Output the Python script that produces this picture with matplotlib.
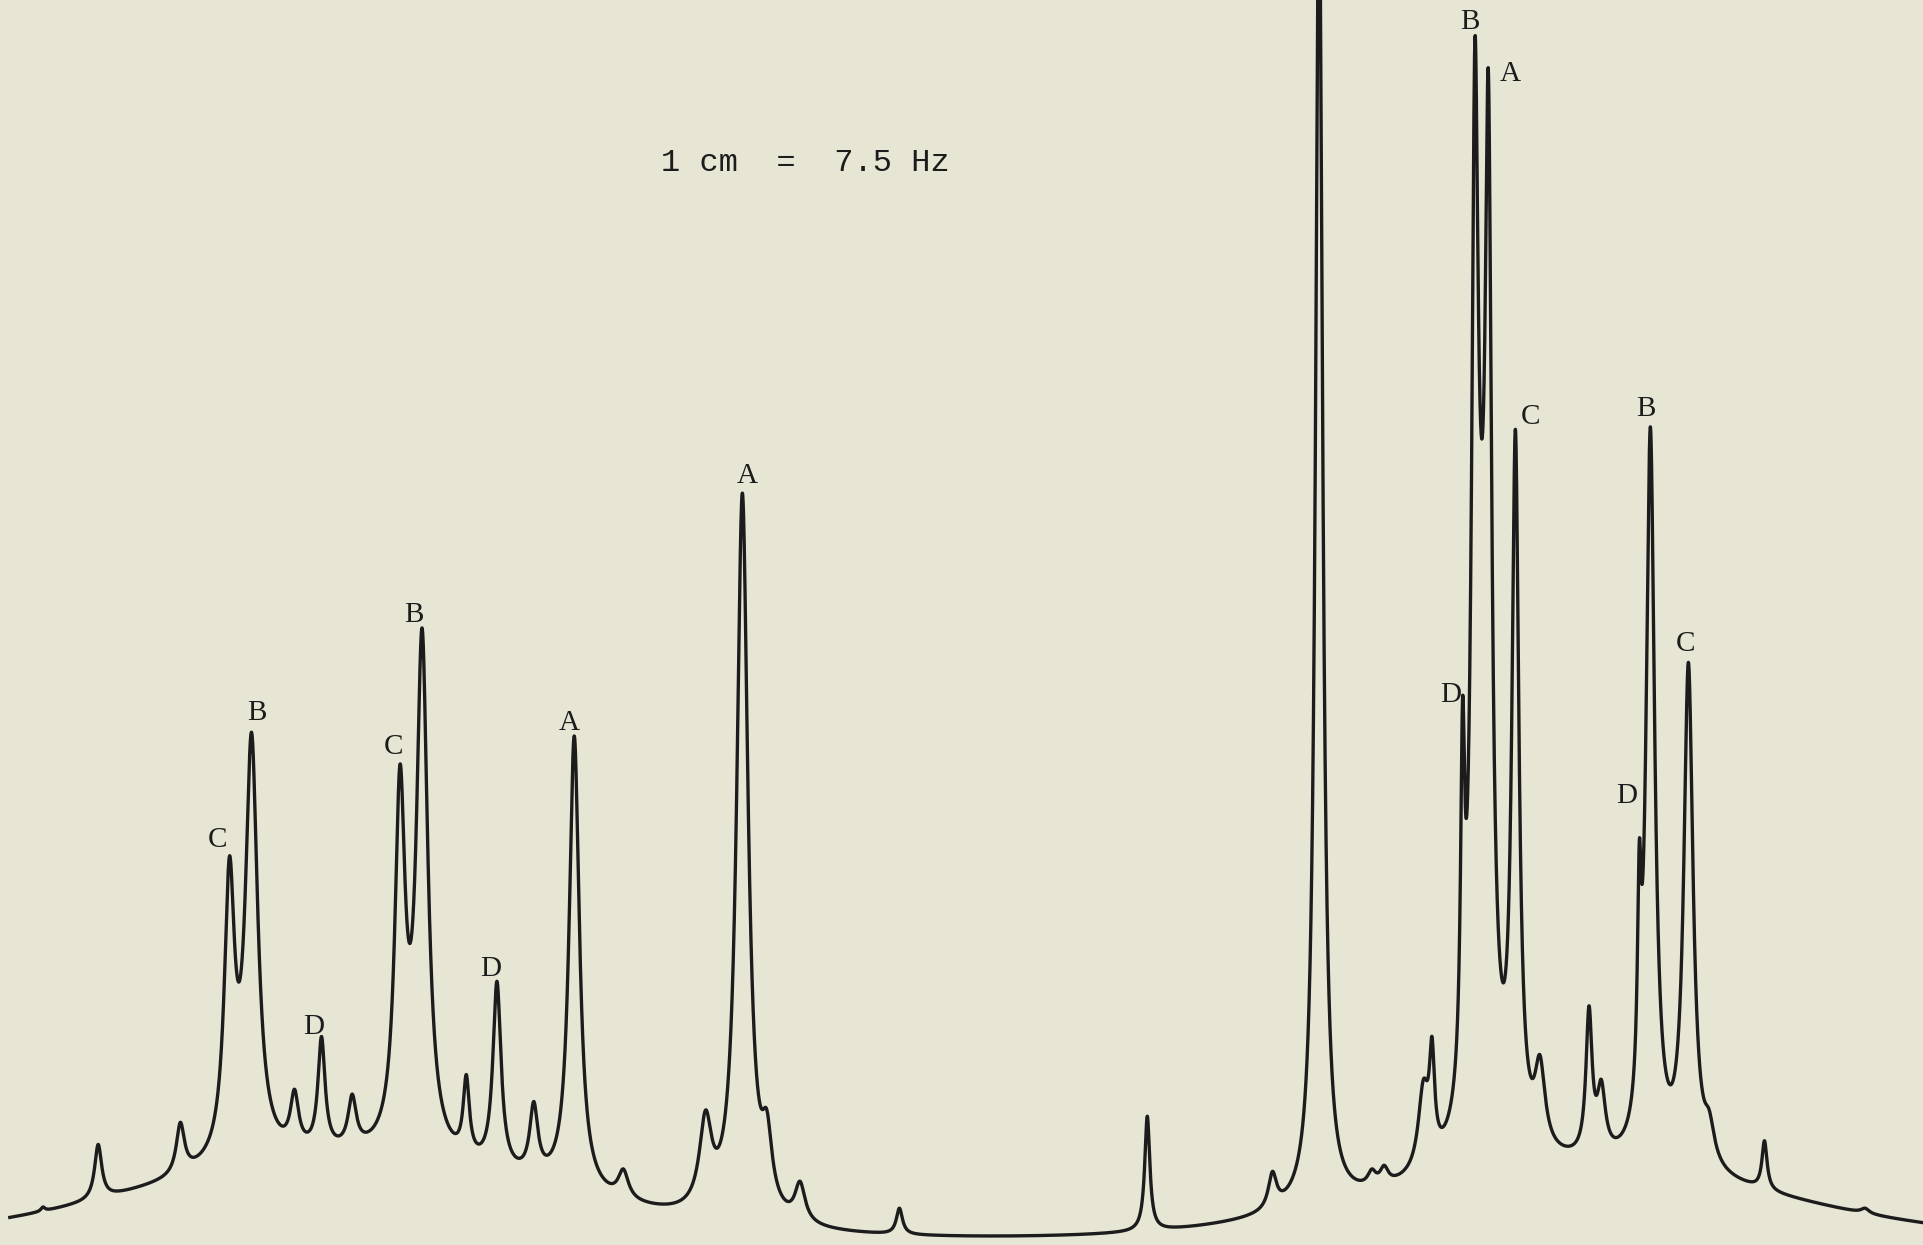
# NMR spectrum trace with labelled A/B/C/D lines
import numpy as np
import matplotlib.pyplot as plt

# peak positions (chart x units), observed heights above paper zero, half widths
# (the entry at 1207 is the broad envelope under the B/A pair, pinned to the dip height)
peak_pos = [35, 80, 147, 187, 205, 240, 262, 287, 326, 344, 380, 405, 435, 468,
            508, 575, 605, 625, 652, 733, 935, 1037, 1075, 1118, 1128, 1160, 1167,
            1192, 1202, 1207, 1213, 1235, 1255, 1295, 1305, 1336, 1345, 1376, 1393, 1438, 1520]
peak_top = [31, 82, 100, 317, 418, 127, 170, 123, 392, 503, 139, 215, 117, 415,
            62, 110, 613, 110, 52, 30, 105, 60, 1115, 62, 65, 135, 170,
            447, 983, 663, 957, 665, 155, 195, 135, 330, 667, 475, 110, 85, 30]
peak_hw = [2, 3.5, 4, 5, 6, 4, 3.5, 4, 5, 5.5, 3, 4, 4, 5,
           5, 6, 5.5, 5, 5, 3, 2.5, 4, 3.5, 4, 4, 5, 2.5,
           2, 3.2, 7.5, 3.2, 3.4, 5, 3, 4, 1.8, 4.2, 4.5, 5, 2.5, 4]

# slow baseline drift: flat level plus two broad humps under the multiplets
base_level = 5
hump_pos = [280, 1290]
hump_height = [64, 55]
hump_sigma = [165, 160]

# letter labels: text, index of the peak, offset of label (points)
label_text = ["C", "B", "D", "C", "B", "D", "A", "A", "D", "B", "A", "C", "D", "B", "C"]
label_peak = [3, 4, 6, 8, 9, 11, 13, 16, 27, 28, 30, 31, 35, 36, 37]
label_dx = [-10, 4, -6, -5, -7, -5, -4, 4, -10, -4, 18, 12, -10, -4, -2]
label_dy = [13, 16, 8, 14, 11, 10, 11, 14, 1, 14, -2, 10, 36, 15, 15]

scale_text = "1 cm  =  7.5 Hz"


def lorentz(x, x0, hw):
    return hw**2 / ((x - x0)**2 + hw**2)


def baseline(x):
    b = base_level + 0 * np.asarray(x, dtype=float)
    for c, h, s in zip(hump_pos, hump_height, hump_sigma):
        b = b + h * np.exp(-(x - c)**2 / (2 * s**2))
    return b


pos = np.array(peak_pos, dtype=float)
hw = np.array(peak_hw, dtype=float)
tops = np.array(peak_top, dtype=float)

# amplitudes so that the summed trace goes through the observed heights
M = lorentz(pos[:, None], pos[None, :], hw[None, :])
amps = np.linalg.solve(M, tops - baseline(pos))

x = np.arange(8, 1568, 0.1)
y = baseline(x)
for a, c, w in zip(amps, pos, hw):
    y = y + a * lorentz(x, c, w)

paper = "#e7e5d4"
ink = "#1c1c1c"
fig = plt.figure(figsize=(19.24, 12.45), dpi=100, facecolor=paper)
ax = fig.add_axes([0, 0, 1, 1], facecolor=paper)
ax.plot(x, y, color=ink, lw=2.4, solid_joinstyle="round")

for t, i, dx, dy in zip(label_text, label_peak, label_dx, label_dy):
    ax.annotate(t, (peak_pos[i], peak_top[i]), xytext=(dx * 0.88, dy * 0.88),
                textcoords="offset points", ha="center", va="center",
                family="Liberation Serif", fontsize=21, color=ink)

ax.text(656, 1015 - 133, scale_text, ha="center", va="center",
        family="Liberation Mono", fontsize=23, color=ink)

ax.set_xlim(0, 1568)
ax.set_ylim(0, 1015)
ax.axis("off")
fig.savefig("out.png", dpi=100, facecolor=paper)
